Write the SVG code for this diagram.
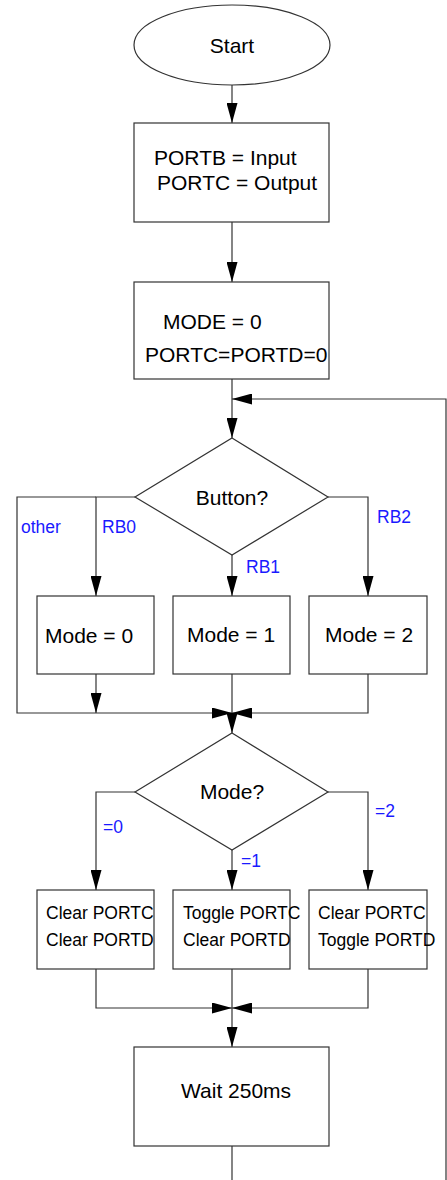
<svg xmlns="http://www.w3.org/2000/svg" width="447" height="1180" viewBox="0 0 447 1180">
  <style>
    .shape { fill: #fff; stroke: #333; stroke-width: 1.2; }
    .wire { fill: none; stroke: #333; stroke-width: 1.2; }
    .txt { font-family: "Liberation Sans", Arial, sans-serif; font-size: 21px; fill: #000; }
    .sm { font-family: "Liberation Sans", Arial, sans-serif; font-size: 17.5px; fill: #000; }
    .lbl { font-family: "Liberation Sans", Arial, sans-serif; font-size: 17.5px; fill: #1a1aff; }
  </style>
  <defs>
    <marker id="arrow" viewBox="0 0 20 11" refX="20" refY="5.5" markerWidth="20" markerHeight="11" markerUnits="userSpaceOnUse" orient="auto">
      <path d="M0,0 L20,5.5 L0,11 Z" fill="#000"/>
    </marker>
  </defs>

  <!-- connectors -->
  <g id="connectors">
    <path class="wire" d="M232,85 V123" marker-end="url(#arrow)"/>
    <path class="wire" d="M232,222 V282" marker-end="url(#arrow)"/>
    <path class="wire" d="M232,379 V438" marker-end="url(#arrow)"/>
    <!-- loop back from the bottom -->
    <path class="wire" d="M446,1180 V399 H232" marker-end="url(#arrow)"/>
    <!-- Button? branches -->
    <path class="wire" d="M135,497 H96 V596" marker-end="url(#arrow)"/>
    <path class="wire" d="M232,555 V596" marker-end="url(#arrow)"/>
    <path class="wire" d="M328,497 H368 V596" marker-end="url(#arrow)"/>
    <path class="wire" d="M96,497 H17 V713 H96"/>
    <path class="wire" d="M96,674 V713" marker-end="url(#arrow)"/>
    <path class="wire" d="M96,713 H232" marker-end="url(#arrow)"/>
    <path class="wire" d="M368,674 V713 H232" marker-end="url(#arrow)"/>
    <path class="wire" d="M232,674 V733" marker-end="url(#arrow)"/>
    <!-- Mode? branches -->
    <path class="wire" d="M135,792 H96 V890" marker-end="url(#arrow)"/>
    <path class="wire" d="M232,850 V890" marker-end="url(#arrow)"/>
    <path class="wire" d="M328,792 H368 V890" marker-end="url(#arrow)"/>
    <path class="wire" d="M96,969 V1008 H232" marker-end="url(#arrow)"/>
    <path class="wire" d="M368,969 V1008 H232" marker-end="url(#arrow)"/>
    <path class="wire" d="M232,969 V1047" marker-end="url(#arrow)"/>
    <path class="wire" d="M232,1146 V1180"/>
    <!-- branch labels -->
    <text class="lbl" x="21" y="533">other</text>
    <text class="lbl" x="102" y="533">RB0</text>
    <text class="lbl" x="246" y="573">RB1</text>
    <text class="lbl" x="377" y="523">RB2</text>
    <text class="lbl" x="103" y="833">=0</text>
    <text class="lbl" x="241" y="867">=1</text>
    <text class="lbl" x="375" y="817">=2</text>
  </g>

  <g id="start">
    <ellipse class="shape" cx="232" cy="45" rx="98" ry="40"/>
    <text class="txt" x="232" y="53" text-anchor="middle">Start</text>
  </g>

  <g id="init-ports">
    <rect class="shape" x="134" y="123" width="195" height="99"/>
    <text class="txt" x="154" y="165">PORTB = Input</text>
    <text class="txt" x="157" y="190">PORTC = Output</text>
  </g>

  <g id="init-mode">
    <rect class="shape" x="134" y="282" width="195" height="97"/>
    <text class="txt" x="163" y="329">MODE = 0</text>
    <text class="txt" x="145" y="362">PORTC=PORTD=0</text>
  </g>

  <g id="button-check">
    <polygon class="shape" points="232,438 328,497 232,555 135,497"/>
    <text class="txt" x="232" y="505" text-anchor="middle">Button?</text>
  </g>

  <g id="set-mode-0">
    <rect class="shape" x="37" y="596" width="117" height="78"/>
    <text class="txt" x="45" y="643">Mode = 0</text>
  </g>
  <g id="set-mode-1">
    <rect class="shape" x="173" y="596" width="117" height="78"/>
    <text class="txt" x="187" y="642">Mode = 1</text>
  </g>
  <g id="set-mode-2">
    <rect class="shape" x="309" y="596" width="118" height="78"/>
    <text class="txt" x="325" y="642">Mode = 2</text>
  </g>

  <g id="mode-check">
    <polygon class="shape" points="232,733 328,792 232,850 135,792"/>
    <text class="txt" x="232" y="799" text-anchor="middle">Mode?</text>
  </g>

  <g id="action-0">
    <rect class="shape" x="37" y="890" width="117" height="79"/>
    <text class="sm" x="46" y="919">Clear PORTC</text>
    <text class="sm" x="46" y="946">Clear PORTD</text>
  </g>
  <g id="action-1">
    <rect class="shape" x="173" y="890" width="117" height="79"/>
    <text class="sm" x="183" y="919">Toggle PORTC</text>
    <text class="sm" x="183" y="946">Clear PORTD</text>
  </g>
  <g id="action-2">
    <rect class="shape" x="309" y="890" width="118" height="79"/>
    <text class="sm" x="318" y="919">Clear PORTC</text>
    <text class="sm" x="318" y="946">Toggle PORTD</text>
  </g>

  <g id="wait">
    <rect class="shape" x="134" y="1047" width="195" height="99"/>
    <text class="txt" x="181" y="1098">Wait 250ms</text>
  </g>
</svg>
